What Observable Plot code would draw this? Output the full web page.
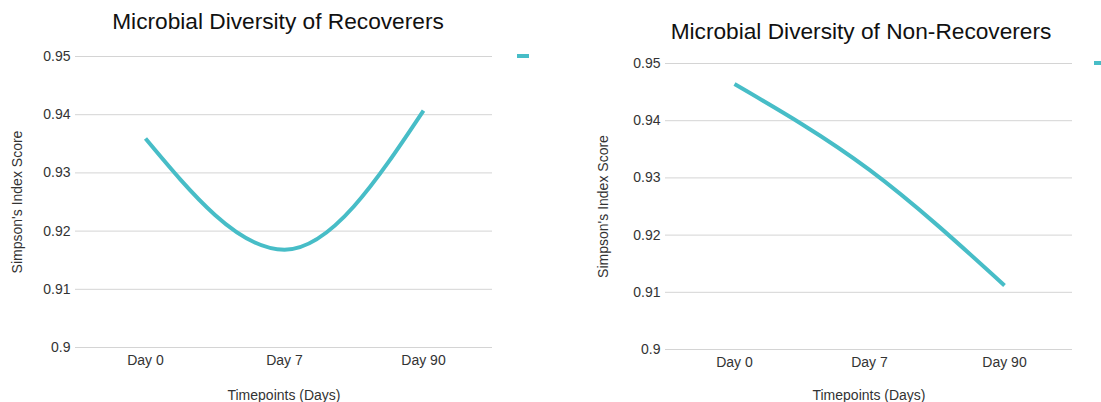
<!DOCTYPE html>
<html>
<head>
<meta charset="utf-8">
<script src="https://cdn.jsdelivr.net/npm/d3@7"></script>
<script src="https://cdn.jsdelivr.net/npm/@observablehq/plot@0.6"></script>
<style>
  html, body { margin: 0; padding: 0; background: #fff; }
  body { width: 1101px; height: 402px; position: relative; overflow: hidden; font-family: "Liberation Sans", Arial, sans-serif; }
  .panel { position: absolute; top: 0; }
  .title { position: absolute; font-size: 22.7px; line-height: 26px; color: #111; white-space: nowrap; transform: translateX(-50%); }
  .swatch { position: absolute; width: 12px; height: 4px; background: #47bdc7; }
</style>
</head>
<body>
<div id="left" class="panel" style="left:0px;"></div>
<div id="right" class="panel" style="left:550px;"></div>
<div class="title" style="left:278px; top:8px;">Microbial Diversity of Recoverers</div>
<div class="title" style="left:861px; top:18px;">Microbial Diversity of Non-Recoverers</div>
<div class="swatch" style="left:517px; top:54px;"></div>
<div class="swatch" style="left:1094px; top:61px;"></div>
<script>
const timepoints = ["Day 0", "Day 7", "Day 90"];
const recoverers = [0.9359, 0.9168, 0.9407];
const nonRecoverers = [0.9464, 0.9314, 0.9112];
const yTicks = [0.9, 0.91, 0.92, 0.93, 0.94, 0.95];
const yTickLabels = ["0.9", "0.91", "0.92", "0.93", "0.94", "0.95"];

const lineColor = "#47bdc7";

function makeChart(values, opts) {
  const data = timepoints.map((t, i) => ({ t, v: values[i] }));
  return Plot.plot({
    width: opts.width,
    height: 402,
    marginLeft: opts.ml,
    marginRight: opts.mr,
    marginTop: opts.mt,
    marginBottom: opts.mb,
    style: { fontFamily: "Liberation Sans, Arial, sans-serif", fontSize: "14px", color: "#333", background: "white" },
    x: { type: "point", domain: timepoints, padding: 0.5 },
    y: { domain: [0.9, 0.95] },
    marks: [
      Plot.gridY(yTicks, { stroke: "#d4d4d4", strokeOpacity: 1, strokeWidth: 1 }),
      Plot.axisY(yTicks, {
        tickSize: 0, tickPadding: 5, fontSize: 14,
        tickFormat: (d) => yTickLabels[yTicks.indexOf(d)],
        label: "Simpson's Index Score", labelAnchor: "center", labelArrow: "none",
        labelOffset: opts.ylo
      }),
      Plot.axisX({
        tickSize: 0, tickPadding: 8, fontSize: 14,
        label: "Timepoints (Days)", labelAnchor: "center", labelArrow: "none",
        labelOffset: opts.xlo
      }),
      Plot.line(data, { x: "t", y: "v", stroke: lineColor, strokeWidth: 4, curve: "monotone-x", strokeLinecap: "butt" })
    ]
  });
}

const left = makeChart(recoverers, { width: 550, ml: 75, mr: 58, mt: 56, mb: 55, ylo: 63, xlo: 52 });
const right = makeChart(nonRecoverers, { width: 551, ml: 115, mr: 29, mt: 63, mb: 53, ylo: 67, xlo: 50 });
document.getElementById("left").appendChild(left);
document.getElementById("right").appendChild(right);
</script>
</body>
</html>
